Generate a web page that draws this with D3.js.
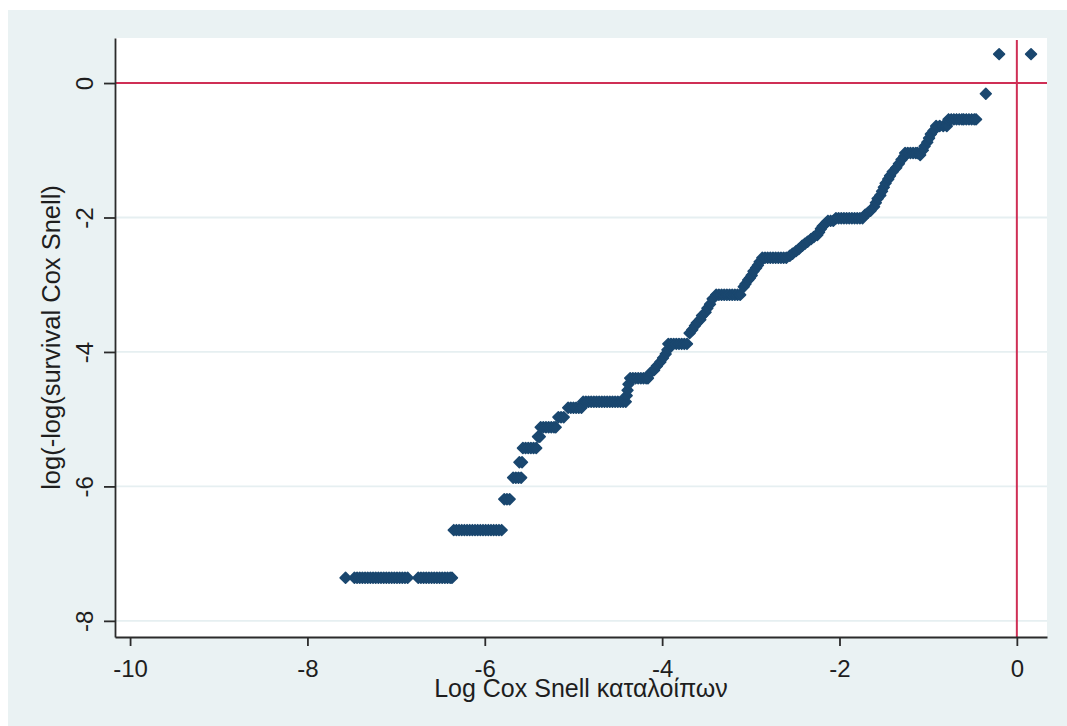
<!DOCTYPE html>
<html>
<head>
<meta charset="utf-8">
<script src="https://cdn.jsdelivr.net/npm/d3@7/dist/d3.min.js"></script>
<style>
  html, body { margin: 0; padding: 0; background: #ffffff; }
  svg { display: block; }
  text { font-family: "Liberation Sans", Arial, sans-serif; fill: #1e1e1e; }
</style>
</head>
<body>
<svg id="chart" width="1067" height="726"></svg>
<script>
// Cox-Snell residual check: log(-log S) against log residual.
// Observations are grouped by tied survival level; each group holds the
// log residuals that share that level.
const tieLevels = [
  -7.36, -6.65, -6.19, -5.87, -5.64, -5.43, -5.26, -5.12, -4.97, -4.83,
  -4.74, -4.65, -4.57, -4.48, -4.39, -4.31, -4.27, -4.21, -4.15, -4.09,
  -4.03, -3.97, -3.88, -3.72, -3.67, -3.61, -3.57, -3.52, -3.46, -3.41,
  -3.35, -3.29, -3.21, -3.15, -3.03, -2.99, -2.93, -2.90, -2.86, -2.80,
  -2.75, -2.71, -2.66, -2.60, -2.57, -2.54, -2.50, -2.47, -2.42, -2.39,
  -2.36, -2.32, -2.29, -2.26, -2.22, -2.17, -2.13, -2.08, -2.05, -2.01,
  -1.96, -1.93, -1.90, -1.84, -1.78, -1.72, -1.67, -1.61, -1.55, -1.49,
  -1.43, -1.38, -1.32, -1.26, -1.20, -1.14, -1.09, -1.04, -1.07, -1.00,
  -0.94, -0.88, -0.82, -0.76, -0.71, -0.64, -0.54, -0.16, 0.43
];

const tieResiduals = [
  [-7.57, -7.47, -7.44, -7.41, -7.38, -7.35, -7.32, -7.29, -7.26, -7.23, -7.20, -7.17,
   -7.14, -7.11, -7.08, -7.05, -7.02, -6.99, -6.96, -6.93, -6.90, -6.87, -6.75, -6.72,
   -6.69, -6.66, -6.63, -6.60, -6.57, -6.54, -6.51, -6.48, -6.45, -6.42, -6.39, -6.37],
  [-6.35, -6.32, -6.29, -6.26, -6.23, -6.20, -6.17, -6.14, -6.11, -6.08, -6.05, -6.02,
   -5.99, -5.96, -5.93, -5.90, -5.87, -5.84, -5.81],
  [-5.78, -5.75, -5.72],
  [-5.68, -5.65, -5.62, -5.59],
  [-5.61, -5.58],
  [-5.57, -5.54, -5.51, -5.48, -5.45, -5.42],
  [-5.40, -5.38],
  [-5.37, -5.34, -5.31, -5.28, -5.25, -5.22, -5.20],
  [-5.17, -5.14, -5.11],
  [-5.06, -5.03, -5.00, -4.97, -4.94, -4.91],
  [-4.89, -4.86, -4.83, -4.80, -4.77, -4.74, -4.71, -4.68, -4.65, -4.62, -4.59, -4.56,
   -4.53, -4.50, -4.47, -4.44, -4.41],
  [-4.40],
  [-4.39],
  [-4.38],
  [-4.36, -4.33, -4.30, -4.27, -4.24, -4.21, -4.18, -4.16],
  [-4.13],
  [-4.09],
  [-4.06],
  [-4.02],
  [-3.99],
  [-3.96],
  [-3.94],
  [-3.93, -3.90, -3.87, -3.84, -3.81, -3.78, -3.75, -3.72],
  [-3.69],
  [-3.66],
  [-3.63],
  [-3.61],
  [-3.57],
  [-3.55],
  [-3.51],
  [-3.49],
  [-3.46],
  [-3.43],
  [-3.39, -3.36, -3.33, -3.30, -3.27, -3.24, -3.21, -3.18, -3.15, -3.12],
  [-3.08],
  [-3.06],
  [-3.03],
  [-3.01],
  [-2.99],
  [-2.97],
  [-2.94],
  [-2.92],
  [-2.90],
  [-2.87, -2.84, -2.81, -2.78, -2.75, -2.72, -2.69, -2.66, -2.63, -2.60],
  [-2.56],
  [-2.53],
  [-2.49],
  [-2.46],
  [-2.42],
  [-2.39],
  [-2.36],
  [-2.32],
  [-2.29],
  [-2.25],
  [-2.23],
  [-2.21],
  [-2.19],
  [-2.15],
  [-2.13, -2.10, -2.07],
  [-2.04, -2.01, -1.98, -1.95, -1.92, -1.89, -1.86, -1.83, -1.80, -1.77, -1.74],
  [-1.71],
  [-1.68],
  [-1.65],
  [-1.61],
  [-1.59],
  [-1.57],
  [-1.54],
  [-1.52],
  [-1.50],
  [-1.48],
  [-1.45],
  [-1.43],
  [-1.40],
  [-1.36],
  [-1.33],
  [-1.30],
  [-1.27],
  [-1.26, -1.23, -1.20, -1.17, -1.14, -1.12],
  [-1.09],
  [-1.06],
  [-1.04],
  [-1.01],
  [-0.99],
  [-0.97],
  [-0.94],
  [-0.91, -0.87, -0.83, -0.79],
  [-0.77, -0.74, -0.71, -0.68, -0.65, -0.62, -0.60, -0.57, -0.54, -0.51, -0.48, -0.46],
  [-0.35],
  [-0.20, 0.16]
];

const xTicks = [-10, -8, -6, -4, -2, 0];
const yTicks = [-8, -6, -4, -2, 0];
const xTitle = "Log Cox Snell καταλοίπων";
const yTitle = "log(-log(survival Cox Snell)";

// flatten the tie groups into plotted points
const points = [];
tieLevels.forEach((lv, i) => {
  tieResiduals[i].forEach(r => points.push({ x: r, y: lv }));
});

const W = 1067, H = 726;
const plot = { left: 115, right: 1047, top: 38, bottom: 637 };

const svg = d3.select("#chart");

// outer graph region
svg.append("rect")
  .attr("x", 8).attr("y", 10)
  .attr("width", W - 8).attr("height", H - 10)
  .attr("fill", "#eaf2f3");

// plot region
svg.append("rect")
  .attr("x", plot.left).attr("y", plot.top)
  .attr("width", plot.right - plot.left).attr("height", plot.bottom - plot.top)
  .attr("fill", "#ffffff");

const x = d3.scaleLinear().domain([-10.17, 0.34]).range([plot.left, plot.right]);
const y = d3.scaleLinear().domain([0.67, -8.24]).range([plot.top, plot.bottom]);

// horizontal grid
svg.append("g")
  .selectAll("line")
  .data(yTicks)
  .join("line")
  .attr("x1", plot.left).attr("x2", plot.right)
  .attr("y1", d => y(d)).attr("y2", d => y(d))
  .attr("stroke", "#e6eff1")
  .attr("stroke-width", 1.8);

// reference lines at zero
const refColor = "#cf2f55";
svg.append("line")
  .attr("x1", plot.left).attr("x2", plot.right)
  .attr("y1", y(0)).attr("y2", y(0))
  .attr("stroke", refColor).attr("stroke-width", 2);
svg.append("line")
  .attr("x1", x(0)).attr("x2", x(0))
  .attr("y1", plot.top + 2).attr("y2", plot.bottom)
  .attr("stroke", refColor).attr("stroke-width", 2);

// markers
const diamond = "M0,-5.4 L5.4,0 L0,5.4 L-5.4,0 Z";
svg.append("g")
  .selectAll("path")
  .data(points)
  .join("path")
  .attr("d", diamond)
  .attr("transform", d => `translate(${x(d.x)},${y(d.y)})`)
  .attr("fill", "#1a476f")
  .attr("stroke", "#1a476f")
  .attr("stroke-width", 1.6)
  .attr("stroke-linejoin", "round");

// axes
const axisColor = "#2b2b2b";
const xAxis = svg.append("g")
  .attr("transform", `translate(0,${plot.bottom})`)
  .call(d3.axisBottom(x).tickValues(xTicks).tickSize(9).tickSizeOuter(0)
        .tickFormat(d => String(d)));
xAxis.select(".domain").attr("stroke", axisColor).attr("stroke-width", 1.8);
xAxis.selectAll(".tick line").attr("stroke", axisColor).attr("stroke-width", 1.8);
xAxis.selectAll(".tick text")
  .attr("y", 40).attr("dy", 0)
  .style("font-size", "24px")
  .style("font-family", "'Liberation Sans', Arial, sans-serif")
  .attr("fill", "#1e1e1e");

const yAxis = svg.append("g")
  .attr("transform", `translate(${plot.left},0)`)
  .call(d3.axisLeft(y).tickValues(yTicks).tickSize(11).tickSizeOuter(0)
        .tickFormat(d => String(d)));
yAxis.select(".domain").attr("stroke", axisColor).attr("stroke-width", 1.8);
yAxis.selectAll(".tick line").attr("stroke", axisColor).attr("stroke-width", 1.8);
yAxis.selectAll(".tick text")
  .attr("transform", "rotate(-90)")
  .attr("x", 0).attr("y", -22).attr("dy", 0)
  .attr("text-anchor", "middle")
  .style("font-size", "24px")
  .style("font-family", "'Liberation Sans', Arial, sans-serif")
  .attr("fill", "#1e1e1e");

// axis titles
svg.append("text")
  .attr("x", (plot.left + plot.right) / 2)
  .attr("y", 697)
  .attr("text-anchor", "middle")
  .style("font-size", "25px")
  .text(xTitle);

svg.append("text")
  .attr("transform", `translate(60,${(plot.top + plot.bottom) / 2}) rotate(-90)`)
  .attr("text-anchor", "middle")
  .style("font-size", "25.5px")
  .text(yTitle);
</script>
</body>
</html>
